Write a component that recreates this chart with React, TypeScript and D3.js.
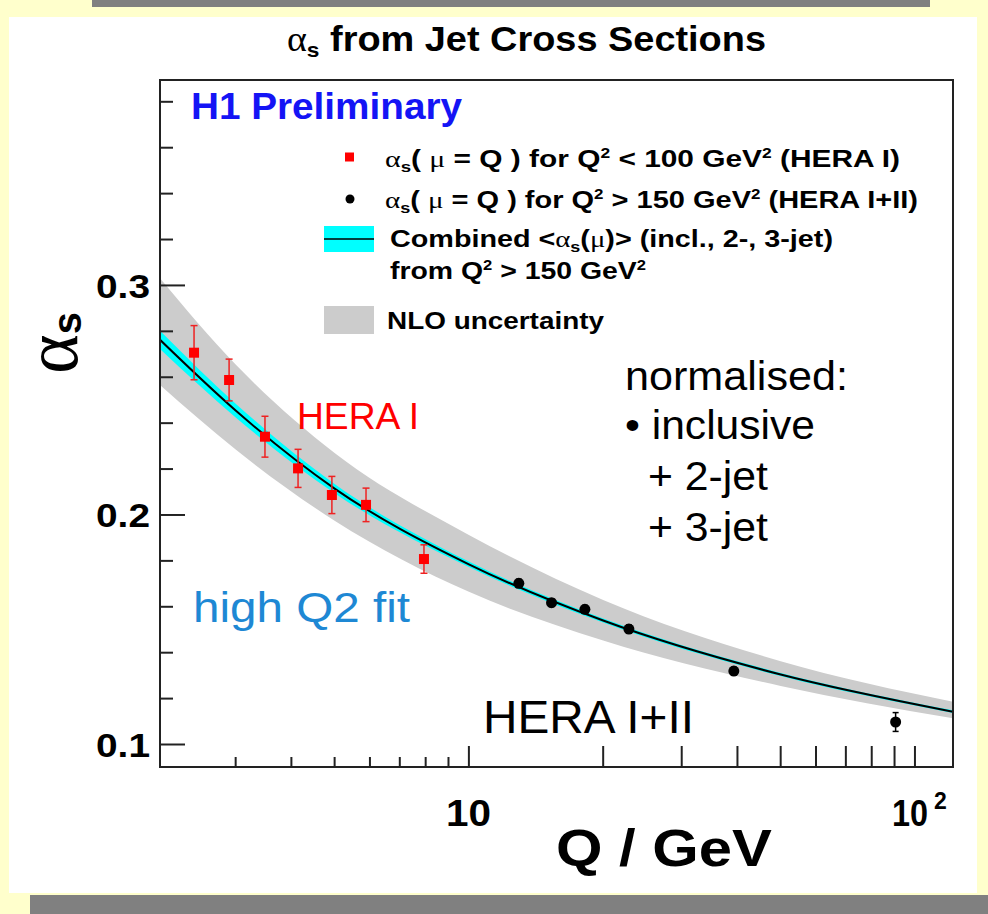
import * as d3 from "d3";

// HERA I points (Q2 < 100 GeV2), red squares
const heraIQ = [2.42, 2.9, 3.49, 4.14, 4.93, 5.88, 7.93];
const heraIAlpha = [0.2707, 0.2588, 0.2341, 0.2203, 0.2087, 0.2044, 0.1808];
const heraIErr = [0.0118, 0.0091, 0.0089, 0.0083, 0.0081, 0.0073, 0.0062];

// HERA I+II points (Q2 > 150 GeV2), black dots
const heraIIQ = [12.94, 15.32, 18.2, 22.84, 39.26, 90.5];
const heraIIAlpha = [0.1702, 0.1618, 0.1589, 0.1503, 0.132, 0.1098];
const heraIIErr = [0.0018, 0.0017, 0.0017, 0.0018, 0.0017, 0.0041];

// combined fit, its (cyan) error and the NLO uncertainty band, read at a few Q
const fitQ = [2.03, 3, 5, 10, 20, 50, 121.7];
const fitAlpha = [0.2763, 0.2455, 0.2115, 0.1785, 0.154, 0.1305, 0.1143];
const fitErr = [0.004, 0.003, 0.002, 0.0012, 0.0009, 0.0007, 0.0006];
const nloHi = [0.3031, 0.2655, 0.227, 0.1913, 0.163, 0.1363, 0.1186];
const nloLo = [0.2566, 0.2285, 0.1975, 0.1665, 0.1453, 0.1255, 0.1114];

const yTickLabels = ["0.1", "0.2", "0.3"];
const xMinorTicks = [3, 4, 5, 6, 7, 8, 9];
const xMajorTicks = [10, 20, 30, 40, 50, 60, 70, 80, 90, 100];

const SANS = "'Liberation Sans', Arial, Helvetica, sans-serif";
const SERIF = "'Liberation Serif', 'DejaVu Serif', serif";

const frame = { left: 160, top: 80, right: 953, bottom: 767 };

export default function App() {
  const x = d3.scaleLog().domain([2.03, 121.7]).range([frame.left, frame.right]);
  const y = d3.scaleLinear().domain([0.0902, 0.3895]).range([frame.bottom, frame.top]);

  const idx = fitQ.map((_, i) => i);
  const nloArea = d3
    .area<number>()
    .x((i) => x(fitQ[i]))
    .y0((i) => y(nloLo[i]))
    .y1((i) => y(nloHi[i]))
    .curve(d3.curveMonotoneX);
  const fitArea = d3
    .area<number>()
    .x((i) => x(fitQ[i]))
    .y0((i) => y(fitAlpha[i] - fitErr[i]))
    .y1((i) => y(fitAlpha[i] + fitErr[i]))
    .curve(d3.curveMonotoneX);
  const fitLine = d3
    .line<number>()
    .x((i) => x(fitQ[i]))
    .y((i) => y(fitAlpha[i]))
    .curve(d3.curveMonotoneX);

  const yTicks = d3.range(5, 20).map((k) => k * 0.02);

  return (
    <svg
      width={988}
      height={914}
      style={{ position: "absolute", left: 0, top: 0, display: "block" }}
      fontFamily={SANS}
    >
      {/* slide background */}
      <rect x={0} y={0} width={988} height={914} fill="#ffffcc" />
      <rect x={92} y={0} width={838} height={7} fill="#808080" />
      <rect x={9} y={17} width={968} height={876} fill="#ffffff" />
      <rect x={30} y={895} width={958} height={19} fill="#808080" />

      <defs>
        <clipPath id="frameClip">
          <rect x={frame.left} y={frame.top} width={frame.right - frame.left} height={frame.bottom - frame.top} />
        </clipPath>
      </defs>

      {/* title */}
      <text x={287} y={51} fontSize={35} fontWeight="bold" textLength={479} lengthAdjust="spacingAndGlyphs">
        <tspan fontFamily={SERIF} fontWeight="normal">α</tspan>
        <tspan fontSize={21} dy={6}>s</tspan>
        <tspan dy={-6}> from Jet Cross Sections</tspan>
      </text>

      {/* bands and fit */}
      <g clipPath="url(#frameClip)">
        <path d={nloArea(idx) ?? ""} fill="#cccccc" />
        <path d={fitArea(idx) ?? ""} fill="#00ffff" />
        <path d={fitLine(idx) ?? ""} fill="none" stroke="#000" strokeWidth={2} />
      </g>

      {/* HERA I points */}
      <g stroke="#ee2222" strokeWidth={1.5}>
        {heraIQ.map((q, i) => {
          const cx = x(q);
          const top = y(heraIAlpha[i] + heraIErr[i]);
          const bot = y(heraIAlpha[i] - heraIErr[i]);
          return (
            <g key={"e1" + i}>
              <line x1={cx} x2={cx} y1={top} y2={bot} />
              <line x1={cx - 3.5} x2={cx + 3.5} y1={top} y2={top} />
              <line x1={cx - 3.5} x2={cx + 3.5} y1={bot} y2={bot} />
            </g>
          );
        })}
      </g>
      {heraIQ.map((q, i) => (
        <rect key={"p1" + i} x={x(q) - 5} y={y(heraIAlpha[i]) - 5} width={10} height={10} fill="#ff0000" />
      ))}

      {/* HERA I+II points */}
      <g stroke="#000" strokeWidth={1.5}>
        {heraIIQ.map((q, i) => {
          const cx = x(q);
          const top = y(heraIIAlpha[i] + heraIIErr[i]);
          const bot = y(heraIIAlpha[i] - heraIIErr[i]);
          return (
            <g key={"e2" + i}>
              <line x1={cx} x2={cx} y1={top} y2={bot} />
              <line x1={cx - 3} x2={cx + 3} y1={top} y2={top} />
              <line x1={cx - 3} x2={cx + 3} y1={bot} y2={bot} />
            </g>
          );
        })}
      </g>
      {heraIIQ.map((q, i) => (
        <circle key={"p2" + i} cx={x(q)} cy={y(heraIIAlpha[i])} r={5.5} fill="#000" />
      ))}

      {/* frame */}
      <rect
        x={frame.left}
        y={frame.top}
        width={frame.right - frame.left}
        height={frame.bottom - frame.top}
        fill="none"
        stroke="#222"
        strokeWidth={2}
      />

      {/* y ticks */}
      <g stroke="#222" strokeWidth={2}>
        {yTicks.map((v) => {
          const major = Math.abs(v * 10 - Math.round(v * 10)) < 1e-6;
          return (
            <line key={"yt" + v} x1={frame.left} x2={frame.left + (major ? 25 : 13)} y1={y(v)} y2={y(v)} />
          );
        })}
      </g>
      {yTickLabels.map((t) => (
        <text
          key={t}
          x={96}
          y={y(+t)}
          dy="0.37em"
          fontSize={33}
          fontWeight="bold"
          textLength={54}
          lengthAdjust="spacingAndGlyphs"
        >
          {t}
        </text>
      ))}

      {/* x ticks */}
      <g stroke="#222" strokeWidth={2}>
        {xMinorTicks.map((q) => (
          <line key={"xm" + q} x1={x(q)} x2={x(q)} y1={frame.bottom} y2={frame.bottom - 10} />
        ))}
        {xMajorTicks.map((q) => (
          <line key={"xM" + q} x1={x(q)} x2={x(q)} y1={frame.bottom} y2={frame.bottom - 21} />
        ))}
      </g>
      <text x={x(10) - 23} y={826} fontSize={36} fontWeight="bold" textLength={45} lengthAdjust="spacingAndGlyphs">
        10
      </text>
      <text x={892} y={826} fontSize={36} fontWeight="bold" textLength={36} lengthAdjust="spacingAndGlyphs">
        10
      </text>
      <text x={934} y={809} fontSize={23} fontWeight="bold">
        2
      </text>

      {/* axis titles */}
      <text x={556} y={866} fontSize={52} fontWeight="bold" textLength={216} lengthAdjust="spacingAndGlyphs">
        Q / GeV
      </text>
      <g transform="translate(77,374) rotate(-90)">
        <text x={0} y={0} fontSize={76} fontFamily={SERIF}>
          α<tspan fontFamily={SANS} fontWeight="bold" fontSize={40} dy={4}>s</tspan>
        </text>
      </g>

      {/* H1 label */}
      <text x={191} y={119} fontSize={36} fontWeight="bold" fill="#1414f5" textLength={271} lengthAdjust="spacingAndGlyphs">
        H1 Preliminary
      </text>

      {/* legend */}
      <rect x={345} y={152.5} width={9} height={9} fill="#ff0000" />
      <text x={385} y={167} fontSize={24} fontWeight="bold" textLength={515} lengthAdjust="spacingAndGlyphs">
        <tspan fontFamily={SERIF} fontWeight="normal">α</tspan>
        <tspan fontSize={15} dy={5}>s</tspan>
        <tspan dy={-5}>( </tspan>
        <tspan fontFamily={SERIF} fontWeight="normal">μ</tspan>
        <tspan> = Q ) for Q</tspan>
        <tspan fontSize={14} dy={-9}>2</tspan>
        <tspan dy={9}> &lt; 100 GeV</tspan>
        <tspan fontSize={14} dy={-9}>2</tspan>
        <tspan dy={9}> (HERA I)</tspan>
      </text>

      <circle cx={350} cy={199} r={4.5} fill="#000" />
      <text x={385} y={208} fontSize={24} fontWeight="bold" textLength={533} lengthAdjust="spacingAndGlyphs">
        <tspan fontFamily={SERIF} fontWeight="normal">α</tspan>
        <tspan fontSize={15} dy={5}>s</tspan>
        <tspan dy={-5}>( </tspan>
        <tspan fontFamily={SERIF} fontWeight="normal">μ</tspan>
        <tspan> = Q ) for Q</tspan>
        <tspan fontSize={14} dy={-9}>2</tspan>
        <tspan dy={9}> &gt; 150 GeV</tspan>
        <tspan fontSize={14} dy={-9}>2</tspan>
        <tspan dy={9}> (HERA I+II)</tspan>
      </text>

      <rect x={324} y={226} width={50} height={26} fill="#00ffff" />
      <line x1={324} x2={374} y1={239} y2={239} stroke="#000" strokeWidth={1.5} />
      <text x={390} y={247} fontSize={24} fontWeight="bold" textLength={443} lengthAdjust="spacingAndGlyphs">
        <tspan>Combined &lt;</tspan>
        <tspan fontFamily={SERIF} fontWeight="normal">α</tspan>
        <tspan fontSize={15} dy={5}>s</tspan>
        <tspan dy={-5}>(</tspan>
        <tspan fontFamily={SERIF} fontWeight="normal">μ</tspan>
        <tspan>)&gt; (incl., 2-, 3-jet)</tspan>
      </text>
      <text x={390} y={279} fontSize={24} fontWeight="bold" textLength={256} lengthAdjust="spacingAndGlyphs">
        <tspan>from Q</tspan>
        <tspan fontSize={14} dy={-9}>2</tspan>
        <tspan dy={9}> &gt; 150 GeV</tspan>
        <tspan fontSize={14} dy={-9}>2</tspan>
      </text>

      <rect x={324} y={306} width={50} height={28} fill="#cccccc" />
      <text x={387} y={329} fontSize={24} fontWeight="bold" textLength={217} lengthAdjust="spacingAndGlyphs">
        NLO uncertainty
      </text>

      {/* annotations */}
      <text x={297} y={429} fontSize={37} fill="#ff0000" textLength={122} lengthAdjust="spacingAndGlyphs">
        HERA I
      </text>
      <text x={625} y={390} fontSize={40} textLength={223} lengthAdjust="spacingAndGlyphs">
        normalised:
      </text>
      <text x={625} y={439} fontSize={40} textLength={190} lengthAdjust="spacingAndGlyphs">
        • inclusive
      </text>
      <text x={648} y={490} fontSize={40} textLength={120} lengthAdjust="spacingAndGlyphs">
        + 2-jet
      </text>
      <text x={648} y={541} fontSize={40} textLength={120} lengthAdjust="spacingAndGlyphs">
        + 3-jet
      </text>
      <text x={193} y={622} fontSize={42} fill="#1e88d4" textLength={217} lengthAdjust="spacingAndGlyphs">
        high Q2 fit
      </text>
      <text x={483} y={733} fontSize={47} fill="#000" textLength={211} lengthAdjust="spacingAndGlyphs">
        HERA I+II
      </text>
    </svg>
  );
}
